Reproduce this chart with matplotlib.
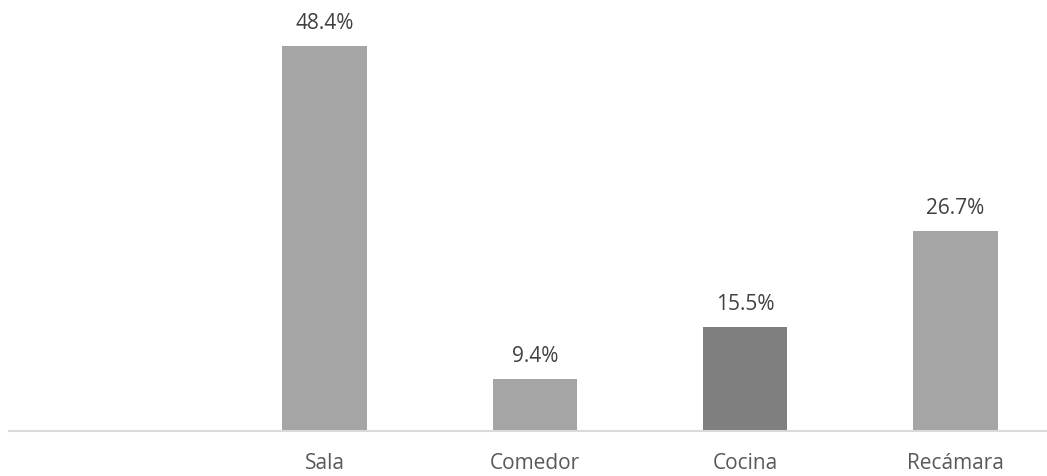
import matplotlib.pyplot as plt

categorias = ["", "Sala", "Comedor", "Cocina", "Recámara"]
valores = [None, 48.4, 9.4, 15.5, 26.7]
colores = ["#A5A5A5", "#A5A5A5", "#A5A5A5", "#7F7F7F", "#A5A5A5"]

plt.rcParams['font.family'] = ['Open Sans', 'DejaVu Sans']

fig = plt.figure(figsize=(10.47, 4.77), dpi=100)
ax = fig.add_axes([9 / 1047, 45 / 477, 1 - 9 / 1047, 432 / 477])

x = list(range(len(categorias)))
for i in x:
    if valores[i] is None:
        continue
    ax.bar(i, valores[i], width=0.4, color=colores[i], bottom=0)
    ax.text(i, valores[i] + 1.5, "{:.1f}%".format(valores[i]), ha="center", va="bottom",
            fontsize=15, color="#404040")

ax.set_xlim(-0.5, 4.435)
ax.set_ylim(3.3, 53.9)
ax.set_xticks(x)
ax.set_xticklabels(categorias, fontsize=15, color="#595959")
ax.tick_params(axis="x", length=0, pad=15)
ax.set_yticks([])
for s in ["top", "right", "left"]:
    ax.spines[s].set_visible(False)
ax.spines["bottom"].set_color("#D9D9D9")
ax.spines["bottom"].set_linewidth(1.5)

fig.savefig("out.png", dpi=100)
